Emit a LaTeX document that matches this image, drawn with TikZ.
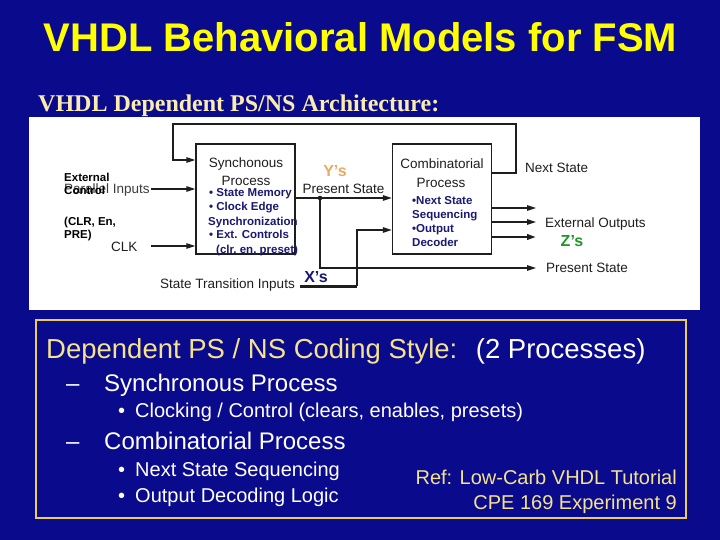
\documentclass[tikz,border=0pt]{standalone}
\usepackage{fontspec}
\setmainfont{Liberation Sans}
\newfontfamily\timesfont{Liberation Serif}
\usetikzlibrary{positioning, arrows.meta}
\definecolor{vhNavy}{RGB}{10, 10, 140}
\definecolor{vhYellow}{RGB}{255, 255, 0}
\definecolor{vhCream}{RGB}{245, 226, 140}
\definecolor{vhPale}{RGB}{250, 236, 175}
\definecolor{vhGold}{RGB}{235, 205, 85}
\definecolor{vhInk}{RGB}{25, 25, 115}
\definecolor{vhWire}{RGB}{30, 30, 30}
\definecolor{vhGray}{RGB}{60, 60, 60}
\definecolor{vhOrange}{RGB}{232, 172, 96}
\definecolor{vhGreen}{RGB}{30, 150, 40}
\tikzset{
    base/.style={
        inner sep=0pt,
        text depth=0pt
    },
    title/.style={
        base,
        font=\fontsize{40}{44}\selectfont\bfseries,
        text=vhYellow,
        text height=28.6pt
    },
    subtitle/.style={
        base,
        font=\timesfont\fontsize{24}{28}\selectfont\bfseries,
        text=vhPale,
        text height=16pt,
        anchor=west
    },
    proc/.style={
        rectangle,
        draw=vhWire,
        line width=1.2pt,
        fill=white,
        minimum width=99pt,
        minimum height=110pt,
        inner sep=0pt
    },
    lbl/.style={
        base,
        font=\fontsize{13.5}{16}\selectfont,
        text=vhWire,
        text height=9.7pt
    },
    note/.style={
        base,
        font=\fontsize{11.5}{13}\selectfont\bfseries,
        text=vhInk,
        text height=8.3pt,
        anchor=west
    },
    ctrl/.style={
        note,
        text=black
    },
    tag/.style={
        base,
        font=\fontsize{16}{18}\selectfont\bfseries,
        text height=11.5pt
    },
    wire/.style={
        draw=vhWire,
        line width=1.3pt
    },
    arrow/.style={
        wire,
        -{Triangle[length=9pt, width=5.5pt]}
    },
    head/.style={
        base,
        font=\fontsize{27.5}{32}\selectfont,
        text=white,
        text height=19.7pt,
        anchor=west
    },
    item/.style={
        base,
        font=\fontsize{24}{28}\selectfont,
        text=white,
        text height=17.2pt,
        anchor=west
    },
    subitem/.style={
        base,
        font=\fontsize{20}{24}\selectfont,
        text=white,
        text height=14.3pt,
        anchor=west
    },
    ref/.style={
        subitem,
        text=vhCream,
        anchor=east
    }
}
\begin{document}
\begin{tikzpicture}[x=1pt, y=-1pt]
  \fill[vhNavy] (0,0) rectangle (720,540);
  \node[title] (ttl) at (360.5,37) {VHDL Behavioral Models for FSM};
  \node[subtitle] (sub) at (38,104) {VHDL Dependent PS/NS Architecture:};

  \fill[white] (29,117) rectangle (700,310);

  \node[proc] (sync) at (245.5,199) {};
  \node[proc] (comb) at (442,199) {};

  \node[lbl] (syncT) at (246,163) {Synchonous};
  \node[lbl] (syncP) at (246,181) {Process};
  \node[note] (sm1) at (209,192) {• State Memory};
  \node[note] (sm2) at (209,206) {• Clock Edge};
  \node[note] (sm3) at (208,221) {Synchronization};
  \node[note] (sm4) at (209,234) {• Ext. Controls};
  \node[note] (sm5) at (216,249) {(clr, en, preset)};

  \node[lbl] (combT) at (442,164) {Combinatorial};
  \node[lbl] (combP) at (441,183) {Process};
  \node[note] (cm1) at (412,200) {•Next State};
  \node[note] (cm2) at (412,214) {Sequencing};
  \node[note] (cm3) at (412,228) {•Output};
  \node[note] (cm4) at (412,242) {Decoder};

  \node[ctrl] (ext) at (64,177) {External};
  \node[lbl, anchor=west, text=vhGray] (par) at (64,189) {Parallel Inputs};
  \node[ctrl] (ctl) at (64,190) {Control};
  \node[ctrl] (clr) at (64,221) {(CLR, En,};
  \node[ctrl] (pre) at (64,234) {PRE)};
  \node[lbl, anchor=west] (clk) at (111,247) {CLK};
  \node[lbl, anchor=west] (sti) at (160,284) {State Transition Inputs};

  \node[tag, text=vhOrange] (ys) at (335,170.5) {Y’s};
  \node[lbl] (psA) at (343.5,189) {Present State};
  \node[tag, text=vhInk] (xs) at (316,277) {X’s};

  \node[lbl, anchor=west] (nxt) at (525,168) {Next State};
  \node[lbl, anchor=west] (eo) at (545,223) {External Outputs};
  \node[tag, text=vhGreen] (zs) at (572,241) {Z’s};
  \node[lbl, anchor=west] (psB) at (546,268) {Present State};

  \coordinate (nsOut) at (comb.east |- 0,173);
  \coordinate (fbR) at (516,124);
  \coordinate (fbL) at (173,124);
  \coordinate (fbIn) at (sync.west |- 0,160);
  \draw[arrow] (nsOut) -| (fbR) -- (fbL) |- (fbIn);

  \coordinate (parIn) at (151,189);
  \coordinate (clkIn) at (151,246);
  \draw[arrow] (parIn) -- (sync.west |- parIn);
  \draw[arrow] (clkIn) -- (sync.west |- clkIn);

  \coordinate (psTap) at (320,198);
  \coordinate (psOut) at (536,268);
  \draw[arrow] (sync.east |- psTap) -- (comb.west |- psTap);
  \draw[arrow] (psTap) |- (psOut);
  \fill[vhWire] (psTap) circle (2.3pt);

  \coordinate (xIn) at (300,286);
  \coordinate (xBend) at (357,286);
  \draw[wire, line width=3pt] (xIn) -- (xBend);
  \draw[arrow] (xBend) |- (comb.west |- 0,230);

  \foreach \y/\w in {208/1.3, 222/1.3, 237/2.4} {
    \draw[arrow, line width=\w pt] (comb.east |- 0,\y) -- (536,\y);
  }

  \draw[vhGold, line width=2.5pt] (36,320) rectangle (686,518);
  \node[head] (hd) at (46,349) {\textcolor{vhCream}{Dependent PS / NS Coding Style:}\hspace{0.3em} (2 Processes)};
  \node[item] (d1) at (66,382.5) {–};
  \node[item] (it1) at (104,382.5) {Synchronous Process};
  \node[subitem] (b1) at (118,410.5) {•};
  \node[subitem] (s1) at (135,410.5) {Clocking / Control (clears, enables, presets)};
  \node[item] (d2) at (66,440.5) {–};
  \node[item] (it2) at (104,440.5) {Combinatorial Process};
  \node[subitem] (b2) at (118,469.5) {•};
  \node[subitem] (s2) at (135,469.5) {Next State Sequencing};
  \node[subitem] (b3) at (118,495.5) {•};
  \node[subitem] (s3) at (135,495.5) {Output Decoding Logic};
  \node[ref] (rf1) at (677,477.5) {Ref: Low-Carb VHDL Tutorial};
  \node[ref] (rf2) at (677,502) {CPE 169 Experiment 9};
\end{tikzpicture}
\end{document}
